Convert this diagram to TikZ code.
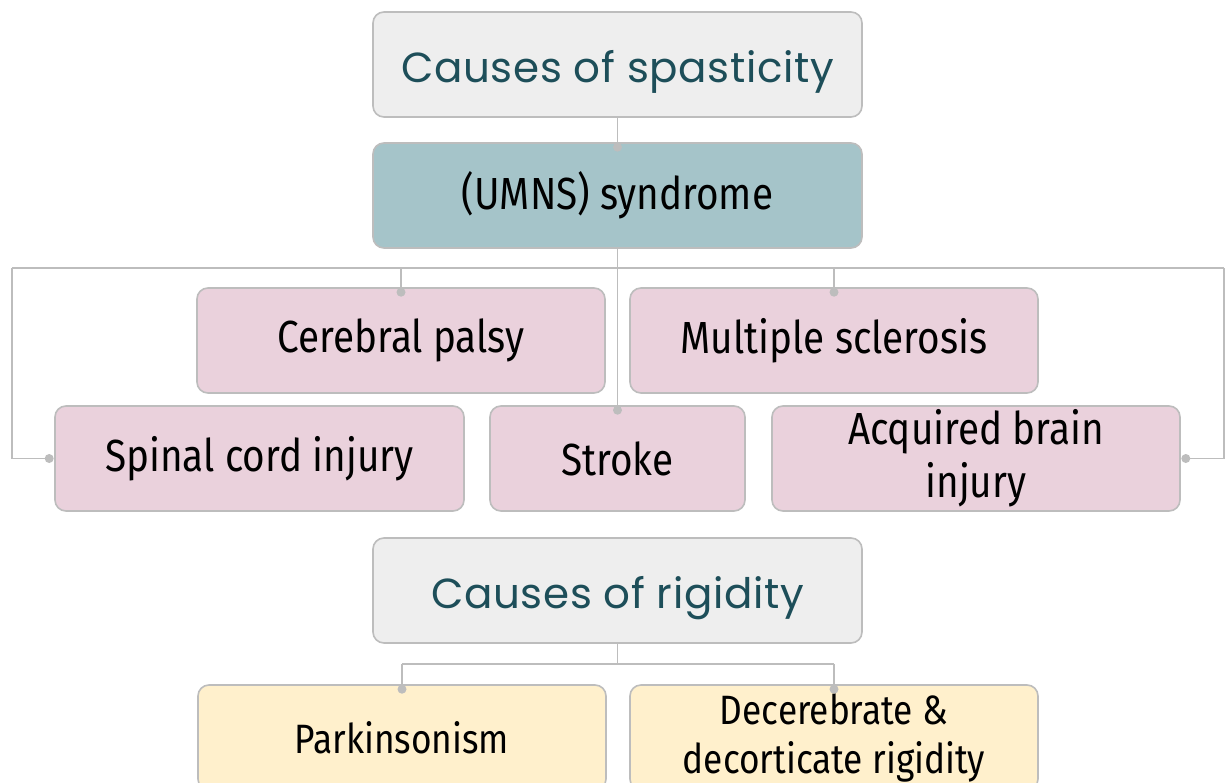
\documentclass[tikz,border=0pt]{standalone}
\usepackage{fontspec}
\setmainfont{Fira Sans}[FakeStretch=0.86]
\newfontfamily\titlefont{Poppins}[LetterSpace=1.5]
\definecolor{linegray}{HTML}{BDBDBD}
\definecolor{titlefill}{HTML}{EEEEEE}
\definecolor{titletext}{HTML}{1D4E59}
\definecolor{umnsfill}{HTML}{A5C4C9}
\definecolor{pinkfill}{HTML}{EAD1DC}
\definecolor{yellowfill}{HTML}{FFF0CC}
\tikzset{
  box/.style={draw=linegray, line width=1.6pt, rounded corners=11pt, minimum height=105pt, inner sep=0pt, align=center, font=\fontsize{45}{53}\selectfont},
  titlebox/.style={box, fill=titlefill, minimum width=489pt, text=titletext, text height=38pt, text depth=3pt, font=\titlefont\fontsize{42}{50}\selectfont},
  umnsbox/.style={box, fill=umnsfill, minimum width=489pt},
  pinkbox/.style={box, fill=pinkfill, minimum width=408pt},
  yellowbox/.style={box, fill=yellowfill, minimum width=408pt, font=\fontsize{41}{49}\selectfont},
  conn/.style={draw=linegray, line width=1.8pt},
  dot/.style={circle, fill=linegray, inner sep=0pt, minimum size=9pt}
}
\begin{document}
\begin{tikzpicture}[x=1pt,y=-1pt]
\useasboundingbox (0,0) rectangle (1229,782);
\clip (0,0) rectangle (1229,782);
\fill[white] (0,0) rectangle (1229,782);
% nodes
\node[titlebox] (t1) at (617.5,64.5) {Causes of spasticity};
\node[umnsbox] (umns) at (617.5,195.5) {(UMNS) syndrome};
\node[pinkbox] (cp) at (401,340.5) {Cerebral palsy};
\node[pinkbox] (ms) at (834,340.5) {Multiple sclerosis};
\node[pinkbox, minimum width=409pt] (sci) at (259.5,458.5) {Spinal cord injury};
\node[pinkbox, minimum width=255pt] (stroke) at (617.5,458.5) {Stroke};
\node[pinkbox] (abi) at (976,458.5) {Acquired brain\\injury};
\node[titlebox] (t2) at (617.5,590.5) {Causes of rigidity};
\node[yellowbox] (park) at (402,737.5) {Parkinsonism};
\node[yellowbox] (dec) at (834,737.5) {Decerebrate \&\\decorticate rigidity};
% coordinates
\coordinate (bus1) at (617.5,268);
\coordinate (busL) at (12,268);
\coordinate (busR) at (1224,268);
\coordinate (bus2) at (617.5,664);
% connectors
\draw[conn] (t1.south) -- ([yshift=-5pt]umns.north) node[dot] (d0) {};
\draw[conn] (umns.south) -- ([yshift=-5pt]stroke.north) node[dot] (d1) {};
\draw[conn] (busL) -- (busR);
\draw[conn] (cp.north |- bus1) -- ([yshift=-5pt]cp.north) node[dot] (d2) {};
\draw[conn] (ms.north |- bus1) -- ([yshift=-5pt]ms.north) node[dot] (d3) {};
\draw[conn] (busL) |- ([xshift=-5pt]sci.west) node[dot] (d4) {};
\draw[conn] (busR) |- ([xshift=5pt]abi.east) node[dot] (d5) {};
\draw[conn] (t2.south) -- (bus2);
\draw[conn] (park.north |- bus2) -- (dec.north |- bus2);
\draw[conn] (park.north |- bus2) -- ([yshift=-5pt]park.north) node[dot] (d6) {};
\draw[conn] (dec.north |- bus2) -- ([yshift=-5pt]dec.north) node[dot] (d7) {};
\end{tikzpicture}
\end{document}
